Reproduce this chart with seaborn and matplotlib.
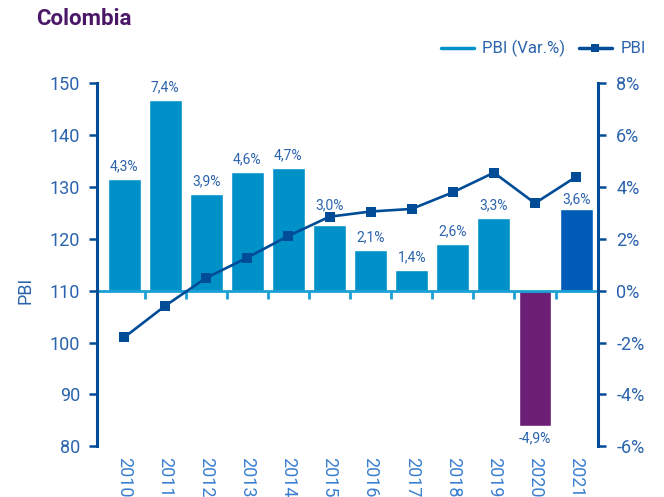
import matplotlib
matplotlib.use("Agg")
import matplotlib.pyplot as plt
from matplotlib.lines import Line2D
import seaborn as sns

# data (bar heights as drawn, labels as printed)
years = ["2010", "2011", "2012", "2013", "2014", "2015",
         "2016", "2017", "2018", "2019", "2020", "2021"]
pbi_var = [4.32, 7.36, 3.74, 4.60, 4.74, 2.54, 1.58, 0.81, 1.82, 2.81, -5.2, 3.16]
var_labels = ["4,3%", "7,4%", "3,9%", "4,6%", "4,7%", "3,0%",
              "2,1%", "1,4%", "2,6%", "3,3%", "-4,9%", "3,6%"]
pbi_index = [101.0, 107.1, 112.5, 116.4, 120.6, 124.3,
             125.3, 125.8, 129.0, 132.8, 126.9, 132.0]
pct_ticks = [-6, -4, -2, 0, 2, 4, 6, 8]
pbi_ticks = [80, 90, 100, 110, 120, 130, 140, 150]

LIGHT = "#0091c9"
DARK = "#004c97"
TXT = "#2b63ad"
bar_colors = {y: LIGHT for y in years}
bar_colors["2020"] = "#6b1f75"
bar_colors["2021"] = "#005cb6"
# labels that sit a little higher to clear the line
label_pad = {"2015": 9, "2021": 2}

sns.set_theme(style="white")
plt.rcParams["font.family"] = ["Roboto", "DejaVu Sans"]

fig = plt.figure(figsize=(6.64, 4.97), dpi=100)
ax = fig.add_subplot(111)
fig.subplots_adjust(left=0.146, right=0.901, bottom=0.102, top=0.832)

# bars on the percentage axis
sns.barplot(x=years, y=pbi_var, hue=years, palette=bar_colors, legend=False,
            saturation=1, width=0.8, ax=ax, zorder=2)
for cont, lab, yr in zip(ax.containers, var_labels, years):
    ax.bar_label(cont, labels=[lab], padding=label_pad.get(yr, 4),
                 fontsize=10, color=TXT)

ax2 = ax.twinx()
xs = list(range(len(years)))
sns.lineplot(x=xs, y=pbi_index, ax=ax2, color=DARK, linewidth=1.9,
             marker="s", markersize=6.5, markeredgewidth=0, zorder=3)

# percentage axis on the right
ax.set_ylim(-6, 8)
ax.set_yticks(pct_ticks)
ax.set_yticklabels([f"{t}%" for t in pct_ticks])
ax.yaxis.tick_right()
ax.yaxis.set_label_position("right")
ax.set_ylabel("")
ax.tick_params(axis="y", right=True, direction="out", length=6, width=1.8,
               color=DARK, labelsize=13, labelcolor=TXT, pad=7)

# PBI index axis on the left
ax2.set_ylim(80, 150)
ax2.set_yticks(pbi_ticks)
ax2.yaxis.tick_left()
ax2.yaxis.set_label_position("left")
ax2.set_ylabel("")
ax2.tick_params(axis="y", left=True, direction="out", length=6, width=1.8,
                color=DARK, labelsize=13, labelcolor=TXT, pad=6)

ax.set_xlim(-0.66, 11.54)

# zero line with ticks between the categories
for s in ["top", "left", "right"]:
    ax.spines[s].set_visible(False)
ax.spines["bottom"].set_position(("data", 0))
ax.spines["bottom"].set_color("#1aa0d6")
ax.spines["bottom"].set_linewidth(2)
ax.spines["bottom"].set_zorder(4)
ax.set_xticks([i + 0.5 for i in range(len(years) - 1)], minor=True)
ax.tick_params(axis="x", which="major", length=0, labelbottom=False)
ax.tick_params(axis="x", which="minor", bottom=True, direction="out",
               length=6, width=2, color="#1aa0d6")

# year labels at the bottom of the plot
ax2.xaxis.set_visible(True)
ax2.tick_params(axis="x", which="major", bottom=True, labelbottom=True,
                length=0, labelrotation=270, labelsize=13, labelcolor="#3a7fd0",
                pad=8)
ax2.tick_params(axis="x", which="minor", length=0)
ax2.spines["top"].set_visible(False)
ax2.spines["bottom"].set_visible(False)
for s in ["left", "right"]:
    ax2.spines[s].set_color(DARK)
    ax2.spines[s].set_linewidth(2.2)

fig.text(0.038, 0.416, "PBI", rotation=90, fontsize=13, color=TXT,
         ha="center", va="center")
fig.text(0.055, 0.962, "Colombia", fontsize=16, fontweight="bold",
         color="#4b1868", ha="left", va="center")

handles = [Line2D([], [], color=LIGHT, linewidth=2.5),
           Line2D([], [], color=DARK, linewidth=2.5, marker="s",
                  markersize=6, markeredgewidth=0)]
fig.legend(handles, ["PBI (Var.%)", "PBI"], loc="center right",
           bbox_to_anchor=(0.995, 0.902), ncol=2, frameon=False,
           fontsize=12, labelcolor=TXT, handlelength=2.0,
           columnspacing=0.8, handletextpad=0.5)

fig.savefig("out.png", dpi=100)
